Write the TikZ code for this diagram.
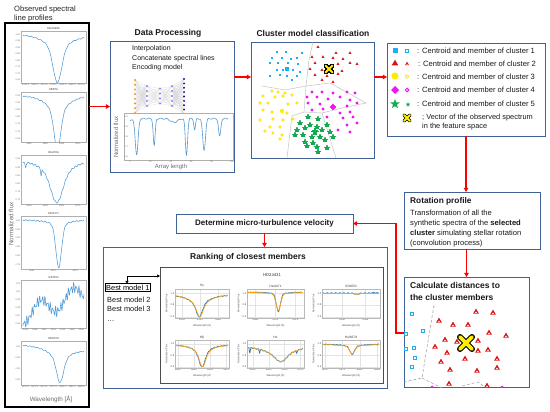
\documentclass[tikz,border=0pt]{standalone}
\usepackage{fontspec}
\setmainfont{Liberation Sans}
\usetikzlibrary{arrows.meta}
\definecolor{boxblue}{RGB}{62,98,150}
\definecolor{specblue}{RGB}{80,155,215}
\definecolor{mplblue}{RGB}{31,119,180}
\definecolor{mplorange}{RGB}{255,165,20}
\definecolor{cyanc}{RGB}{30,175,240}
\definecolor{redc}{RGB}{220,20,20}
\definecolor{yellowc}{RGB}{255,238,0}
\definecolor{magc}{RGB}{240,20,240}
\definecolor{greenc}{RGB}{20,170,80}
\definecolor{orangec}{RGB}{240,150,40}
\definecolor{purplec}{RGB}{140,140,245}
\definecolor{navyc}{RGB}{20,20,150}
\definecolor{axgray}{RGB}{175,175,175}
\definecolor{txtgray}{RGB}{110,110,110}
\newcommand\fsz[2]{\fontsize{#1}{#2}\selectfont}
% left-column spectrum panel
\newcommand\lplot[6]{%
  \draw[axgray, line width=0.3pt] (#1,#2) rectangle (#3,#4);
  \node[ptitle] (lpt) at ({(#1+#3)/2},#2-2.6) {#5};
  \begin{scope}
    \clip (#1,#2) rectangle (#3,#4);
    \draw[specblue, line width=0.55pt, line join=round] plot[domain=0.03:0.97, samples=160, variable=\t] ({#1+(#3-#1)*\t},{#4-(#4-#2)*(#6)});
  \end{scope}}
\newcommand\lticks[8]{%
  \foreach \lab [count=\i] in {#5} {\node[tick, anchor=east] (lty) at (#1-0.6,{#2+(#4-#2)*(\i-0.5)/#7}) {\lab};}
  \foreach \lab [count=\i] in {#6} {\node[tick, anchor=north] (ltx) at ({#1+(#3-#1)*(\i-0.5)/#8},#4+0.6) {\lab};}}
% ranking sub-panel
\newcommand\rplot[8]{%
  \foreach \gv in {0.6,0.8,1.0} {%
    \draw[gray!22, line width=0.25pt] (#1,{#4-(\gv-0.58)/0.49*(#4-#2)}) -- (#3,{#4-(\gv-0.58)/0.49*(#4-#2)});
    \node[rtick, anchor=east] (rty) at (#1-0.6,{#4-(\gv-0.58)/0.49*(#4-#2)}) {\gv};}
  \foreach \tp/\lab in {#8} {%
    \draw[gray!22, line width=0.25pt] ({#1+(#3-#1)*\tp},#2) -- ({#1+(#3-#1)*\tp},#4);
    \node[rtick, anchor=north] (rtx) at ({#1+(#3-#1)*\tp},#4+0.7) {\lab};}
  \draw[gray!55, line width=0.3pt] (#1,#2) rectangle (#3,#4);
  \node[rttl] (rtt) at ({(#1+#3)/2},#2-2.8) {#5};
  \node[rtick] (rxl) at ({(#1+#3)/2},#4+7.2) {Wavelength (Å)};
  \node[rtick, rotate=90] (ryl) at (#1-8.5,{(#2+#4)/2}) {Normalized Flux};
  \begin{scope}
    \clip (#1,#2) rectangle (#3,#4);
    \draw[mplblue, line width=0.7pt, line join=round] plot[domain=0.02:0.98, samples=140, variable=\t] ({#1+(#3-#1)*\t},{#4-((#6)-0.58)/0.49*(#4-#2)});
    \draw[mplorange, line width=0.7pt, line join=round] plot[domain=0.02:0.98, samples=80, variable=\t] ({#1+(#3-#1)*\t},{#4-((#7)-0.58)/0.49*(#4-#2)});
  \end{scope}}
\newcommand\triat[4]{\fill[#4,shift={(#1,#2)}] (270:#3) -- (30:#3) -- (150:#3) -- cycle;}
\newcommand\diaat[4]{\fill[#4,shift={(#1,#2)}] (0:#3) -- (90:#3) -- (180:#3) -- (270:#3) -- cycle;}
\newcommand\starat[4]{\fill[#4,shift={(#1,#2)}] (270:#3) -- (306:{0.42*#3}) -- (342:#3) -- (18:{0.42*#3}) -- (54:#3) -- (90:{0.42*#3}) -- (126:#3) -- (162:{0.42*#3}) -- (198:#3) -- (234:{0.42*#3}) -- cycle;}
\begin{document}
\begin{tikzpicture}[x=1pt,y=-1pt,
  declare function={gau(\xx,\cc,\ww)=exp(-min(((\xx-\cc)/\ww)*((\xx-\cc)/\ww),40)); lor(\xx,\cc,\ww)=1/(1+((\xx-\cc)/\ww)*((\xx-\cc)/\ww));},
  box/.style={draw=boxblue, line width=0.9pt, fill=white, inner sep=0pt, outer sep=0pt, anchor=north west},
  lbox/.style={draw=black, line width=1.4pt, fill=white, inner sep=0pt, outer sep=0pt, anchor=north west},
  arr/.style={draw=red, line width=1.1pt, -{Triangle[length=4.2pt,width=4.6pt]}},
  barr/.style={draw=black, line width=0.6pt, {Triangle[length=2.6pt,width=3pt]}-{Triangle[length=3pt,width=3pt]}},
  ttl/.style={font=\bfseries\fsz{8.5}{10}, inner sep=0pt, text=black!90},
  txt/.style={font=\fsz{7}{8.5}, inner sep=0pt, text=black!90, anchor=west},
  ltxt/.style={font=\fsz{7.6}{9.6}, inner sep=0pt, text=black!90, anchor=west},
  btxt/.style={font=\bfseries\fsz{8}{9.5}, inner sep=0pt, text=black!90, anchor=west},
  ptitle/.style={font=\fsz{2.8}{3}, inner sep=0pt, text=black!75},
  tick/.style={font=\fsz{2.3}{2.5}, inner sep=0pt, text=txtgray},
  rtick/.style={font=\fsz{2.6}{2.8}, inner sep=0pt, text=black!70},
  rttl/.style={font=\fsz{3.2}{3.4}, inner sep=0pt, text=black!75},
  axlab/.style={font=\fsz{6.3}{7}, inner sep=0pt, text=txtgray},
  nnline/.style={gray!35, line width=0.12pt},
  vor/.style={gray!55, line width=0.4pt}]
\useasboundingbox (0,0) rectangle (550,412);
\fill[white] (0,0) rectangle (550,412);

% ---------------- left column: observed spectra ----------------
\node[font=\fsz{7.6}{9}, align=left, inner sep=0pt, text=black!85] (obsttl) at (45,14) {Observed spectral\\line profiles};
\node[lbox, minimum width=84pt, minimum height=384pt] (lb) at (5,23) {};
\lplot{21}{31}{86}{83}{HGAMMA}{0.96-0.03*\t-0.33*lor(\t,0.56,0.2)-0.6*gau(\t,0.56,0.09)+0.008*sin(\t*5000)}
\lticks{21}{31}{86}{83}{1.00,0.95,0.90,0.85,0.80,0.75,0.70,0.65}{4332.5,4335.0,4337.5,4340.0,4342.5,4345.0,4347.5}{8}{7}
\lplot{21}{92}{86}{142}{HBETA}{0.96-0.4*lor(\t,0.56,0.18)-0.7*gau(\t,0.56,0.07)+0.008*sin(\t*6000)}
\lticks{21}{92}{86}{142}{0.95,0.90,0.85,0.80,0.75,0.70,0.65}{4855,4860,4865,4870}{7}{4}
\lplot{21}{155}{86}{204}{HALPHA}{0.93-0.45*lor(\t,0.55,0.22)-0.45*gau(\t,0.55,0.12)+0.015*sin(\t*7000)-0.12*gau(\t,0.07,0.012)-0.15*gau(\t,0.31,0.01)}
\lticks{21}{155}{86}{204}{0.95,0.90,0.85,0.80,0.75,0.70}{6555,6560,6565,6570}{6}{4}
\lplot{21}{216}{86}{269}{HEI4471}{0.93-0.12*lor(\t,0.58,0.15)-0.78*gau(\t,0.58,0.06)+0.01*sin(\t*6000)}
\lticks{21}{216}{86}{269}{1.00,0.95,0.90,0.85,0.80,0.75}{4665,4670,4675}{6}{3}
\lplot{21}{280}{86}{328}{SiII4552}{0.25+0.5*\t+0.18*sin(\t*720-126)+0.07*sin(\t*9000)+0.05*sin(\t*13000)}
\lticks{21}{280}{86}{328}{1.01,1.00,0.99,0.98,0.97,0.96}{4546,4548,4550,4552,4554,4556,4558}{6}{7}
\lplot{21}{341}{86}{385}{HEI6678}{0.93-0.12*\t-0.35*lor(\t,0.6,0.15)-0.45*gau(\t,0.6,0.07)+0.01*sin(\t*6000)}
\lticks{21}{341}{86}{385}{1.00,0.95,0.90,0.85}{6670.0,6672.5,6675.0,6677.5,6680.0,6682.5,6685.0}{4}{7}
\node[axlab, rotate=90] (lbyl) at (11,224) {Normalized flux};
\node[axlab] (lbxl) at (51,399) {Wavelength [Å]};

% ---------------- Data processing ----------------
\node[ttl] (dpttl) at (168,33) {Data Processing};
\node[box, minimum width=124pt, minimum height=131pt] (dp) at (110,41) {};
\node[txt] (dp1) at (132,49) {Interpolation};
\node[txt] (dp2) at (132,58.5) {Concatenate spectral lines};
\node[txt] (dp3) at (132,68) {Encoding model};
% network
\foreach \a in {80,84.7,89.4,94.1,98.9,103.6,108.3,113} \foreach \b in {86,91,96,101,106} \draw[nnline] (135,\a) -- (147,\b);
\foreach \a in {86,91,96,101,106} \foreach \b in {88.5,93.5,98.5,103.5} \draw[nnline] (147,\a) -- (160,\b);
\foreach \a in {88.5,93.5,98.5,103.5} \foreach \b in {86,91,96,101,106} \draw[nnline] (160,\a) -- (172,\b);
\foreach \a in {86,91,96,101,106} \foreach \b in {79,83.4,87.8,92.1,96.5,100.9,105.3,109.6,114} \draw[nnline] (172,\a) -- (184,\b);
\foreach \a in {80,84.7,89.4,94.1,98.9,103.6,108.3,113} \fill[orangec] (135,\a) circle (1.1);
\foreach \a in {86,91,96,101,106} {\fill[purplec] (147,\a) circle (1.1); \fill[purplec] (172,\a) circle (1.1);}
\foreach \a in {88.5,93.5,98.5,103.5} \fill[purplec] (160,\a) circle (1.1);
\foreach \a in {79,83.4,87.8,92.1,96.5,100.9,105.3,109.6,114} \fill[navyc] (184,\a) circle (1.1);
% concatenated spectrum plot
\fill[white] (124,113) rectangle (233,160);
\draw[axgray, line width=0.35pt] (124,113) rectangle (233,160);
\begin{scope}
  \clip (124,113) rectangle (233,160);
  \draw[specblue, line width=0.6pt, line join=round] plot[domain=0:1, samples=260, variable=\t] ({130+98*\t},{160-47*(0.88-0.05*gau(\t,0,0.03)-0.78*gau(\t,0.068,0.02)-0.58*gau(\t,0.247,0.014)-0.78*gau(\t,0.576,0.016)-0.24*gau(\t,0.66,0.012)-0.67*gau(\t,0.756,0.02)-0.38*gau(\t,0.915,0.016)-0.08*gau(\t,0.45,0.05)+0.012*sin(\t*6000))});
\end{scope}
\foreach \lab [count=\i] in {1.0,0.9,0.8,0.7,0.6} \node[tick, anchor=east] (dpy) at (128,{117+(\i-1)*10}) {\lab};
\foreach \lab [count=\i] in {0,20,40,60,80,100} \node[tick, anchor=north] (dpx) at ({130+(\i-1)*20.4},160.8) {\lab};
\node[axlab, font=\fsz{6}{7}, rotate=90] (dpyl) at (116,137) {Normalized flux};
\node[axlab, font=\fsz{6}{7}] (dpxl) at (171,166.5) {Array length};

% ---------------- Cluster model classification ----------------
\node[ttl] (clttl) at (313,33) {Cluster model classification};
\node[box, minimum width=123pt, minimum height=116pt] (cl) at (251,42) {};
\begin{scope}
  \clip (251,42) rectangle (374,158);
  \draw[vor] (313,42) -- (309,60) -- (306,86);
  \draw[vor] (306,86) -- (285,90) -- (262,86);
  \draw[vor] (306,86) -- (330,83) -- (366,103);
  \draw[vor] (306,86) -- (304,112) -- (292,116) -- (287,158);
  \draw[vor] (304,112) -- (322,113) -- (342,108) -- (366,103);
  \draw[vor] (322,113) -- (336,158);
  \foreach \px/\py in {277/52,286/52,302/53,272/58,282/58,291/59,297/58,270/63,278/63,288/63,298/64,277/70,283/70,293/70,300/72,270/76,280/75,287/76,297/76,292/80}
    \fill[cyanc] (\px-1.2,\py-1.2) rectangle (\px+1.2,\py+1.2);
  \fill[cyanc] (285.2,67.2) rectangle (288.8,70.8);
  \foreach \px/\py in {318/47,336/53,350/53,312/57,323/57,333/58,343/59,315/63,338/64,350/63,357/64,310/69,322/70,342/71,315/75,327/76,338/74,322/80,333/82}
    \triat{\px}{\py}{1.7}{redc}
  \foreach \px/\py in {272/91,278/92,285/93,263/96,275/97,283/96,292/95,260/103,268/103,288/104,297/103,263/110,272/112,287/113,260/120,273/119,283/120,293/119,270/127,280/127,265/131,273/133,282/135,280/139}
    \fill[yellowc] (\px,\py) circle (1.2);
  \fill[yellowc] (282,111) circle (2.2);
  \foreach \px/\py in {312/92,322/92,333/93,347/92,355/93,307/97,317/97,328/99,340/97,350/100,308/103,320/104,347/106,357/103,312/110,323/109,340/113,350/112,327/117,343/118,353/117,347/125,357/123,338/130,350/132}
    \diaat{\px}{\py}{1.6}{magc}
  \diaat{333}{107}{2.4}{magc}
  \foreach \px/\py in {308/117,318/119,300/123,310/125,317/127,327/125,297/130,305/128,322/130,330/132,295/135,303/135,312/137,320/137,333/137,305/142,313/143,325/140,307/146,317/147,327/148,318/152}
    \starat{\px}{\py}{2.4}{greenc}
  \starat{315}{132}{3.2}{greenc}
  \draw[black, line width=3.4pt, line cap=round] (325.5,65.5) -- (332.5,72.5) (325.5,72.5) -- (332.5,65.5);
  \draw[yellowc, line width=1.8pt, line cap=round] (325.5,65.5) -- (332.5,72.5) (325.5,72.5) -- (332.5,65.5);
\end{scope}

% ---------------- Legend ----------------
\node[box, minimum width=158pt, minimum height=93pt] (lg) at (387,43) {};
\fill[cyanc] (392.5,48.5) rectangle (397.5,53.5);
\fill[cyanc] (405.2,49.2) rectangle (408.8,52.8); \fill[white] (406.3,50.3) rectangle (407.7,51.7);
\triat{395}{63.5}{3.8}{redc}
\triat{407}{64}{2.3}{redc} \fill[white] (407,64.4) circle (0.6);
\fill[yellowc] (395,76) circle (3.6);
\fill[yellowc] (407,76.5) circle (2); \fill[white] (407,76.5) circle (0.8);
\diaat{395}{90}{4}{magc}
\diaat{407}{90}{2.5}{magc} \fill[white] (407,90) circle (0.8);
\starat{395}{104}{5}{greenc}
\starat{408}{104.5}{2.4}{greenc}
\draw[black, line width=3.4pt, line cap=round] (404,115) -- (410,121) (404,121) -- (410,115);
\draw[yellowc, line width=1.8pt, line cap=round] (404,115) -- (410,121) (404,121) -- (410,115);
\node[ltxt] (lg1) at (417,51) {: Centroid and member of cluster 1};
\node[ltxt] (lg2) at (418,63.5) {: Centroid and member of cluster 2};
\node[ltxt] (lg3) at (417,76.5) {: Centroid and member of cluster 3};
\node[ltxt] (lg4) at (417,90) {: Centroid and member of cluster 4};
\node[ltxt] (lg5) at (417,104) {: Centroid and member of cluster 5};
\node[ltxt, align=left, anchor=north west, font=\fsz{7.4}{9.6}] (lg6) at (422,113.5) {; Vector of the observed spectrum\\in the feature space};

% ---------------- Rotation profile ----------------
\node[box, minimum width=136pt, minimum height=57pt] (rot) at (404,192) {};
\node[btxt, font=\bfseries\fsz{8.3}{9.5}] (rot0) at (410,201.5) {Rotation profile};
\node[ltxt] (rot1) at (410,213) {Transformation of all the};
\node[ltxt] (rot2) at (410,223.5) {synthetic spectra of the \textbf{selected}};
\node[ltxt] (rot3) at (410,234) {\textbf{cluster} simulating stellar rotation};
\node[ltxt] (rot4) at (410,244) {(convolution process)};

% ---------------- Calculate distances ----------------
\node[box, minimum width=125pt, minimum height=110pt] (calc) at (404,277) {};
\node[btxt, font=\bfseries\fsz{8.5}{10}] (calc1) at (410,285.5) {Calculate distances to};
\node[btxt, font=\bfseries\fsz{8.5}{10}] (calc2) at (410,297) {the cluster members};
\begin{scope}
  \clip (404,277) rectangle (529,387);
  \draw[gray!70, line width=0.6pt, densely dashed] (434,305) -- (422,378) -- (404,382);
  \draw[gray!70, line width=0.6pt, densely dashed] (422,378) -- (442,388);
  \draw[gray!70, line width=0.6pt, densely dashed] (462,386) -- (478,382) -- (486,388);
  \foreach \px/\py in {412/314,423/331,406/334,414/348,406/349,415/358,412/367}
    {\fill[cyanc] (\px-2,\py-2) rectangle (\px+2,\py+2); \fill[white] (\px-0.8,\py-0.8) rectangle (\px+0.8,\py+0.8);}
  \foreach \px/\py in {476/312,493/313,439/321,453/325,468/325,489/333,506/336,445/340,478/341,435/347,457/342,447/353,478/351,488/350,465/359,441/362,497/359,450/370,477/371,497/368,449/384,487/386}
    {\triat{\px}{\py}{3.4}{redc} \fill[white] (\px,\py+0.5) circle (0.9);}
  \fill[magc] (432,387) circle (1.5);
  \fill[magc] (502,387) circle (1.5);
  \draw[black, line width=6pt, line cap=round] (460,337) -- (472,349) (460,349) -- (472,337);
  \draw[yellowc, line width=3.6pt, line cap=round] (460,337) -- (472,349) (460,349) -- (472,337);
\end{scope}

% ---------------- Determine micro-turbulence ----------------
\node[box, minimum width=177pt, minimum height=19pt] (det) at (176,214) {};
\node[ttl, font=\bfseries\fsz{8}{9.5}] (dettxt) at (det.center) {Determine micro-turbulence velocity};

% ---------------- Ranking ----------------
\node[box, minimum width=284pt, minimum height=141pt] (rk) at (103,247) {};
\node[ttl] (rkttl) at (248,257) {Ranking of closest members};
\node[draw=black!70, line width=0.7pt, fill=white, minimum width=223pt, minimum height=116pt, inner sep=0pt, outer sep=0pt, anchor=north west] (rimg) at (160,267) {};
\node[font=\fsz{4.2}{4.5}, inner sep=0pt, text=black!80] (hd) at (272,275) {HD24431};
\rplot{175}{289}{229}{318}{Hγ}{0.98-0.22*lor(\t,0.45,0.17)-0.16*gau(\t,0.45,0.07)+0.006*sin(\t*6000)+0.01*gau(\t,0.6,0.05)}{0.985-0.22*lor(\t,0.46,0.18)-0.16*gau(\t,0.46,0.075)}{0.13/4335,0.46/4340,0.8/4345}
\rplot{247}{289}{304}{318}{HeI4471}{1.02-0.3*gau(\t,0.55,0.05)-0.03*lor(\t,0.55,0.2)+0.005*sin(\t*7000)}{1.015-0.28*gau(\t,0.55,0.055)-0.03*lor(\t,0.55,0.2)}{0.15/4665,0.5/4670,0.85/4675}
\rplot{322}{289}{380}{318}{SiII4552}{1.0-0.02*gau(\t,0.6,0.05)+0.006*sin(\t*5000)+0.01*gau(\t,0.9,0.05)}{0.995-0.015*gau(\t,0.6,0.06)}{0.35/4550,0.75/4555}
\rplot{175}{340}{229}{368}{Hβ}{0.99-0.22*lor(\t,0.5,0.13)-0.17*gau(\t,0.5,0.07)+0.006*sin(\t*6000)}{0.99-0.22*lor(\t,0.51,0.14)-0.17*gau(\t,0.51,0.07)}{0.05/4855,0.35/4860,0.65/4865,0.95/4870}
\rplot{247}{340}{304}{368}{Hα}{0.97-0.2*lor(\t,0.58,0.25)-0.08*gau(\t,0.6,0.12)-0.09*gau(\t,0.05,0.01)-0.06*gau(\t,0.22,0.01)-0.05*gau(\t,0.87,0.01)+0.008*sin(\t*6000)}{0.97-0.2*lor(\t,0.58,0.25)-0.08*gau(\t,0.6,0.12)}{0.1/6555,0.38/6560,0.66/6565,0.94/6570}
\rplot{322}{340}{380}{368}{HeI6678}{1.0-0.14*gau(\t,0.52,0.055)-0.04*lor(\t,0.52,0.2)+0.006*sin(\t*6000)}{0.995-0.13*gau(\t,0.52,0.06)-0.04*lor(\t,0.52,0.2)}{0.05/6670,0.35/6675,0.65/6680,0.95/6685}
% best models
\node[draw=black, line width=0.5pt, font=\fsz{7.4}{8.5}, inner sep=1.2pt, outer sep=0pt, anchor=west] (bm1) at (105,287.5) {Best model 1};
\node[txt, font=\fsz{7.4}{8.5}] (bm2) at (107,299.5) {Best model 2};
\node[txt, font=\fsz{7.4}{8.5}] (bm3) at (107,309) {Best model 3};
\node[txt, font=\fsz{7.4}{8.5}] (bm4) at (107,321) {\dots};
\coordinate (bmtip) at (160,276);
\coordinate (bmcorner) at (127,276);
\draw[barr] (bm1.north -| bmcorner) -- (bmcorner) -- (bmtip);

% ---------------- connectors ----------------
\draw[arr] (lb.east |- dp.west) -- (dp.west);
\coordinate (dpcl) at (0,77);
\draw[arr] (dp.east |- dpcl) -- (cl.west |- dpcl);
\draw[arr] (cl.east |- dpcl) -- (lg.west |- dpcl);
\draw[arr] (lg.south) -- (lg.south |- rot.north);
\draw[arr] (calc.north |- rot.south) -- (calc.north);
\coordinate (bend) at (396,333);
\draw[arr] (calc.west |- bend) -- (bend) |- (det.east);
\draw[arr] (det.south) -- (det.south |- rk.north);
\end{tikzpicture}
\end{document}
